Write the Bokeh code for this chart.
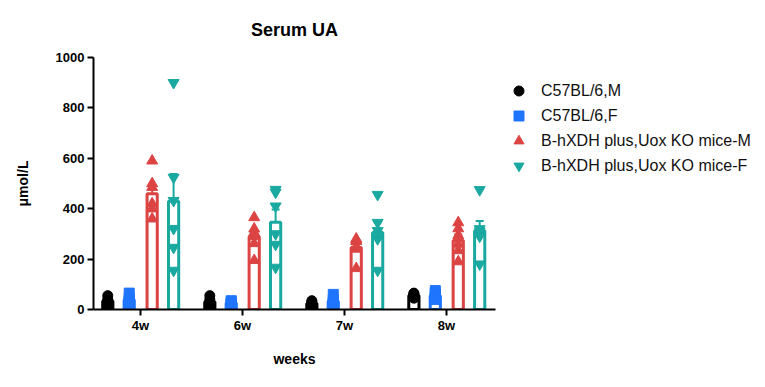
import numpy as np
from bokeh.plotting import figure
from bokeh.layouts import row
from bokeh.models import Range1d, FixedTicker, Legend, LegendItem, Whisker, ColumnDataSource, TeeHead
from bokeh.embed import file_html
from bokeh.resources import INLINE

weeks = ["4w", "6w", "7w", "8w"]
series_names = ["C57BL/6,M", "C57BL/6,F", "B-hXDH plus,Uox KO mice-M", "B-hXDH plus,Uox KO mice-F"]

c57_m = [[55, 40, 30, 25, 20, 35], [55, 40, 30, 20, 15, 25], [35, 30, 25, 20, 15, 20], [65, 62, 58, 55, 50, 45]]
c57_f = [[65, 45, 30, 25, 35, 30], [35, 30, 25, 20, 25, 20], [60, 40, 30, 25, 20, 20], [75, 65, 55, 50, 45, 40]]
ko_m = [[590, 500, 485, 420, 400, 360], [365, 320, 305, 290, 262, 195], [280, 275, 270, 250, 240, 163], [345, 321, 294, 260, 234, 190]]
ko_f = [[900, 524, 432, 321, 246, 155], [476, 465, 410, 300, 258, 167], [456, 345, 313, 286, 280, 155], [475, 320, 310, 300, 290, 180]]

all_data = [c57_m, c57_f, ko_m, ko_f]
colors = ["#000000", "#1F75FE", "#DC4444", "#1AA9A0"]
markers = ["circle", "square", "triangle", "inverted_triangle"]
msizes = [10, 10, 11, 11]
offsets = [-0.32, -0.11, 0.115, 0.325]
bar_w = 0.1

FONT = "Liberation Sans"

p = figure(width=500, height=387, output_backend="svg", toolbar_location=None,
           x_range=Range1d(-0.46, 3.48), y_range=Range1d(0, 1000),
           min_border_left=93, min_border_right=5, min_border_top=57, min_border_bottom=78,
           title="Serum UA")
p.outline_line_color = None
p.xgrid.visible = False
p.ygrid.visible = False
p.background_fill_color = "white"

p.title.align = "center"
p.title.text_font = FONT
p.title.text_font_size = "18px"
p.title.text_font_style = "bold"
p.title.text_color = "black"
p.title.standoff = 35

# legend panel (shares the point sources; its y range hides the points themselves)
lg = figure(width=265, height=387, output_backend="svg", toolbar_location=None,
            x_range=Range1d(0, 1), y_range=Range1d(-2, -1),
            x_axis_type=None, y_axis_type=None,
            min_border_left=0, min_border_right=0, min_border_top=0, min_border_bottom=0)
lg.outline_line_color = None
lg.xgrid.visible = False
lg.ygrid.visible = False
items = []

for si, data in enumerate(all_data):
    xs_bar, means, lows, highs, px, py = [], [], [], [], [], []
    for gi, vals in enumerate(data):
        arr = np.array(vals, dtype=float)
        m = arr.mean()
        sem = arr.std(ddof=1) / np.sqrt(len(arr))
        xb = gi + offsets[si]
        xs_bar.append(xb)
        means.append(m)
        lows.append(m - sem)
        highs.append(m + sem)
        px.extend([xb] * len(vals))
        py.extend(vals)
    bsrc = ColumnDataSource(dict(x=xs_bar, top=means, lo=lows, hi=highs))
    psrc = ColumnDataSource(dict(x=px, y=py))
    p.vbar(x="x", top="top", bottom=0, width=bar_w, source=bsrc,
           fill_color="white", line_color=colors[si], line_width=3)
    wh = Whisker(base="x", lower="lo", upper="hi", source=bsrc, dimension="height",
                 line_color=colors[si], line_width=2,
                 upper_head=TeeHead(size=8, line_color=colors[si], line_width=2),
                 lower_head=TeeHead(size=8, line_color=colors[si], line_width=2))
    p.add_layout(wh)
    p.scatter("x", "y", source=psrc, marker=markers[si], size=msizes[si],
              fill_color=colors[si], line_color=colors[si])
    r = lg.scatter("x", "y", source=psrc, marker=markers[si], size=10,
                   fill_color=colors[si], line_color=colors[si])
    items.append(LegendItem(label=series_names[si], renderers=[r]))

p.xaxis.ticker = FixedTicker(ticks=list(range(len(weeks))))
p.xaxis.major_label_overrides = {i: w for i, w in enumerate(weeks)}
p.xaxis.axis_label = "weeks"
p.yaxis.axis_label = "μmol/L"
p.yaxis.ticker = FixedTicker(ticks=[0, 200, 400, 600, 800, 1000])
for ax in (p.xaxis[0], p.yaxis[0]):
    ax.axis_line_width = 2
    ax.axis_line_color = "black"
    ax.major_tick_line_width = 2
    ax.major_tick_line_color = "black"
    ax.major_tick_out = 6
    ax.major_tick_in = 0
    ax.minor_tick_line_color = None
    ax.major_label_text_font = FONT
    ax.major_label_text_font_style = "bold"
    ax.major_label_text_font_size = "13px"
    ax.major_label_text_color = "black"
    ax.axis_label_text_font = FONT
    ax.axis_label_text_font_style = "bold"
    ax.axis_label_text_font_size = "14px"
    ax.axis_label_text_color = "black"
p.xaxis.axis_label_standoff = 15
p.yaxis.axis_label_standoff = 22
p.xaxis.major_label_standoff = 2
p.yaxis.major_label_standoff = 3

legend = Legend(items=items, location=(6, 131))
legend.border_line_color = None
legend.background_fill_alpha = 0
legend.padding = 0
legend.margin = 0
legend.spacing = 0
legend.label_height = 25
legend.glyph_height = 25
legend.glyph_width = 25
legend.label_standoff = 10
legend.label_text_font = FONT
legend.label_text_font_size = "16px"
legend.label_text_color = "#111111"
lg.add_layout(legend, "center")

layout = row(p, lg, spacing=0)
open("out.html", "w").write(file_html(layout, INLINE))
